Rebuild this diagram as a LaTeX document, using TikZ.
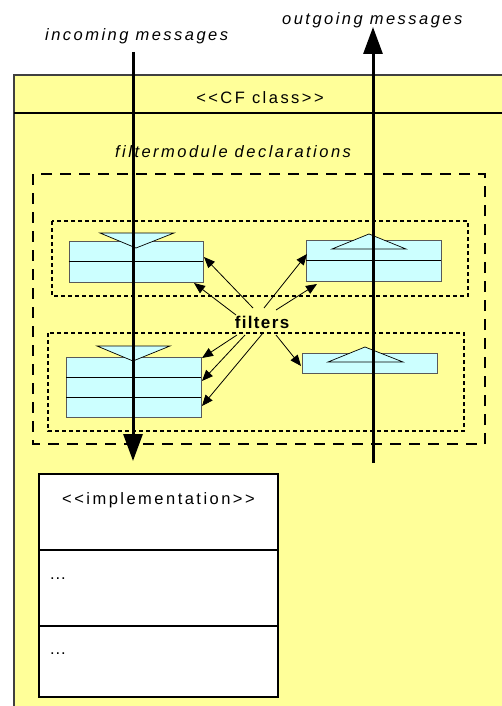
\documentclass[tikz,border=0pt]{standalone}
\usepackage{fontspec}
\setmainfont{Liberation Sans}[LetterSpace=15,Ligatures=NoCommon]
\usetikzlibrary{arrows.meta}
\definecolor{cfyellow}{HTML}{FFFF99}
\definecolor{cfcyan}{HTML}{CCFFFF}
\tikzset{
  lbl/.style={font=\fontsize{16.5}{19}\selectfont, inner sep=0pt},
  itlbl/.style={font=\fontsize{16.5}{19}\selectfont\itshape, inner sep=0pt},
  framebox/.style={draw=black!75, fill=cfyellow, line width=1.5pt},
  bigdash/.style={draw=black, line width=2pt, dash pattern=on 11pt off 8pt},
  smalldash/.style={draw=black, line width=1.6pt, dash pattern=on 4pt off 3pt},
  fbox/.style={draw=black!65, fill=cfcyan, line width=0.8pt, inner sep=0pt, rectangle},
  tri/.style={draw=black, fill=cfcyan, line width=0.7pt, line join=miter},
  divider/.style={draw=black, line width=0.8pt},
  bigarrow/.style={line width=3pt, -{Triangle[length=27pt,width=19pt]}},
  smallarrow/.style={line width=0.8pt, -{Triangle[length=11pt,width=9pt]}},
  implbox/.style={draw=black, fill=white, line width=1.6pt, inner sep=0pt, rectangle}
}
\begin{document}
\begin{tikzpicture}[x=1pt,y=-1pt]
\useasboundingbox (0,0) rectangle (502,706);
\fill[white] (0,0) rectangle (502,706);
\clip (0,0) rectangle (502,706);

% main CF class frame
\draw[framebox] (14,75) rectangle (515,720);
\draw[black, line width=1.5pt] (14,113) -- (515,113);
\node[lbl, anchor=base] (title) at (260,104) {<{}<CF class>{}>};

% filtermodule declarations
\node[itlbl, anchor=base west] (fmd) at (115,157) {filtermodule declarations};
\draw[bigdash] (33,174) rectangle (485,444);
\draw[smalldash] (52,221) rectangle (468,296);
\draw[smalldash] (48,333) rectangle (464,431);

% filter boxes
\node[fbox, minimum width=134pt, minimum height=41pt] (f1) at (136,261.5) {};
\draw[divider] (f1.west) -- (f1.east);
\filldraw[tri] (100,233) -- (174,233) -- (136,248) -- cycle;

\node[fbox, minimum width=135pt, minimum height=41pt] (f2) at (373.5,260.5) {};
\draw[divider] (f2.west) -- (f2.east);
\filldraw[tri] (332,249) -- (406,249) -- (369,234) -- cycle;

\node[fbox, minimum width=135pt, minimum height=60pt] (f3) at (133.5,387) {};
\draw[divider] (66,377) -- (201,377);
\draw[divider] (66,397) -- (201,397);
\filldraw[tri] (97,346) -- (170,346) -- (133,361) -- cycle;

\node[fbox, minimum width=135pt, minimum height=20pt] (f4) at (369.5,363) {};
\filldraw[tri] (328,362) -- (403,362) -- (365,347) -- cycle;

% filters label and arrows
\node[lbl, anchor=base, font=\fontsize{17}{19}\selectfont\bfseries] (filt) at (262,328) {\addfontfeature{LetterSpace=8}filters};
\coordinate (s1) at (253,308); \coordinate (t1) at (204,257);
\coordinate (s2) at (236,315); \coordinate (t2) at (194,283);
\coordinate (s3) at (264,308); \coordinate (t3) at (307,254);
\coordinate (s4) at (276,310); \coordinate (t4) at (317,284);
\coordinate (s5) at (237,335); \coordinate (t5) at (202,358);
\coordinate (s6) at (245,335); \coordinate (t6) at (202,381);
\coordinate (s7) at (263,333); \coordinate (t7) at (202,406);
\coordinate (s8) at (276,335); \coordinate (t8) at (301,366);
\foreach \i in {1,...,8} { \draw[smallarrow] (s\i) -- (t\i); }

% implementation box
\node[implbox, minimum width=239pt, minimum height=223pt] (impl) at (158.5,585.5) {};
\draw[black, line width=1.6pt] (39,550) -- (278,550);
\draw[black, line width=1.6pt] (39,626) -- (278,626);
\node[lbl, anchor=base] (impltitle) at (158.5,504) {<{}<implementation>{}>};
\node[lbl, anchor=base west] (dots1) at (50,579) {\addfontfeature{LetterSpace=5}...};
\node[lbl, anchor=base west] (dots2) at (50,654) {\addfontfeature{LetterSpace=5}...};

% message arrows
\node[itlbl, anchor=base west] (incl) at (45,41) {incoming messages};
\node[itlbl, anchor=base west] (outl) at (282,25) {outgoing messages};
\coordinate (inStart) at (133,52);
\coordinate (inEnd) at (133,461);
\coordinate (outStart) at (373,463);
\coordinate (outEnd) at (373,27);
\draw[bigarrow] (inStart) -- (inEnd);
\draw[bigarrow] (outStart) -- (outEnd);
\end{tikzpicture}
\end{document}
